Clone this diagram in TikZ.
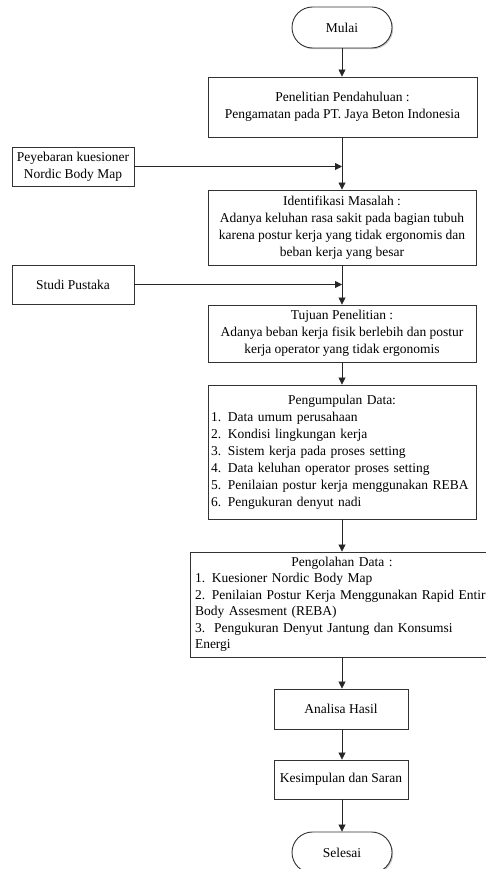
\documentclass[tikz,border=0pt]{standalone}
\usepackage{fontspec}
\setmainfont{Liberation Serif}
\usetikzlibrary{arrows.meta,shadows,shapes.misc}
\begin{document}
\begin{tikzpicture}[x=1pt,y=-1pt,
  box/.style={draw=black!80,line width=0.9pt,fill=white,inner sep=0pt,
    drop shadow={shadow xshift=1.2pt,shadow yshift=-1.2pt,fill=black!35,opacity=0.6},
    font=\fontsize{13.5}{17}\selectfont,align=center},
  term/.style={box,rounded rectangle,minimum width=100pt,minimum height=41pt},
  arr/.style={draw=black!85,line width=0.8pt,-{Triangle[length=7pt,width=7pt]}}]
\clip (0,0) rectangle (486,869);
\fill[white] (0,0) rectangle (486,869);
\node[term] (mulai) at (342,27.5) {Mulai};
\node[box,minimum width=269pt,minimum height=60pt] (pen) at (342.5,107)
  {Penelitian Pendahuluan :\\Pengamatan pada PT. Jaya Beton Indonesia};
\node[box,minimum width=122pt,minimum height=39pt] (sebar) at (73,166.5)
  {Peyebaran kuesioner\\Nordic Body Map};
\node[box,minimum width=268pt,minimum height=75pt] (ident) at (342,227.5)
  {Identifikasi Masalah :\\Adanya keluhan rasa sakit pada bagian tubuh\\karena postur kerja yang tidak ergonomis dan\\beban kerja yang besar};
\node[box,minimum width=122pt,minimum height=39pt] (studi) at (73,284.5) {Studi Pustaka};
\node[box,minimum width=268pt,minimum height=57pt] (tujuan) at (342,333.5)
  {Tujuan Penelitian :\\Adanya beban kerja fisik berlebih dan postur\\kerja operator yang tidak ergonomis};
\node[box,minimum width=268pt,minimum height=134pt,text width=262pt,align=left] (kumpul) at (342,452)
  {\makebox[\linewidth][c]{Pengumpulan Data:}\\
   \mbox{1. Data umum perusahaan}\\
   \mbox{2. Kondisi lingkungan kerja}\\
   \mbox{3. Sistem kerja pada proses setting}\\
   \mbox{4. Data keluhan operator proses setting}\\
   \mbox{5. Penilaian postur kerja menggunakan REBA}\\
   \mbox{6. Pengukuran denyut nadi}};
\node[box,minimum width=304pt,minimum height=105pt,text width=294pt,align=left,
  font=\fontsize{13.5}{16.5}\selectfont] (olah) at (342,604.5)
  {\makebox[\linewidth][c]{Pengolahan Data :}\\
   \mbox{1. Kuesioner Nordic Body Map}\\
   \mbox{2. Penilaian Postur Kerja Menggunakan Rapid Entire}\\
   \mbox{Body Assesment (REBA)}\\
   \mbox{3.\ \ Pengukuran Denyut Jantung dan Konsumsi}\\
   \mbox{Energi}};
\node[box,minimum width=134pt,minimum height=40pt] (analisa) at (341,709) {Analisa Hasil};
\node[box,minimum width=134pt,minimum height=39pt] (simpul) at (341,779.5) {Kesimpulan dan Saran};
\node[term] (selesai) at (342,852.5) {Selesai};
\coordinate (j1) at (342,166.5);
\coordinate (j2) at (342,284.5);
\draw[arr] (mulai.south) -- (mulai.south |- pen.north);
\draw[arr] (pen.south -| mulai.south) -- (mulai.south |- ident.north);
\draw[arr] (sebar.east) -- (j1);
\draw[arr] (ident.south -| mulai.south) -- (mulai.south |- tujuan.north);
\draw[arr] (studi.east) -- (j2);
\draw[arr] (tujuan.south -| mulai.south) -- (mulai.south |- kumpul.north);
\draw[arr] (kumpul.south -| mulai.south) -- (mulai.south |- olah.north);
\draw[arr] (olah.south -| mulai.south) -- (mulai.south |- analisa.north);
\draw[arr] (analisa.south -| mulai.south) -- (mulai.south |- simpul.north);
\draw[arr] (simpul.south -| mulai.south) -- (selesai.north);
\end{tikzpicture}
\end{document}
